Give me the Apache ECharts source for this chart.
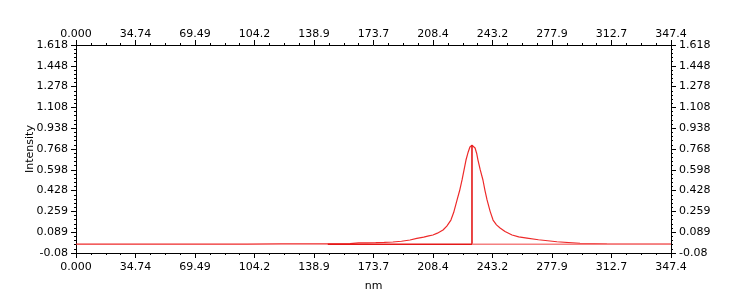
<!DOCTYPE html>
<html>
<head>
<meta charset="utf-8">
<script src="https://cdn.jsdelivr.net/npm/echarts@6/dist/echarts.min.js"></script>
<style>
html,body{margin:0;padding:0;background:#fff;}
#chart{width:747px;height:300px;}
</style>
</head>
<body>
<div id="chart"></div>
<script>
// Tick labels
const xTicks = ["0.000","34.74","69.49","104.2","138.9","173.7","208.4","243.2","277.9","312.7","347.4"];
const yTicks = ["-0.08","0.089","0.259","0.428","0.598","0.768","0.938","1.108","1.278","1.448","1.618"];
const X_MIN = 0, X_MAX = 347.4, X_STEP = 34.74;
const Y_MIN = -0.08, Y_MAX = 1.618, Y_STEP = 0.1698;

// Spectrum (nm, intensity)
const wavelength = [0,20,40,60,80,100,120,140,150,160,165,170,175,180,185,190,195,199,203,206,208.4,211,214.3,216.5,218.9,220.5,222.5,224,225.4,226.6,227.7,229,230,231.2,232.2,233,234,234.7,236,237.6,238.8,240,241.8,243.5,245.5,247.6,250.5,254.6,258.5,263.3,270,280.8,294.3,310,330,347.4];
const intensity  = [-0.008,-0.008,-0.007,-0.007,-0.007,-0.007,-0.006,-0.006,-0.005,-0.003,0.002,0.003,0.004,0.006,0.010,0.016,0.026,0.040,0.050,0.060,0.067,0.082,0.108,0.140,0.189,0.250,0.353,0.430,0.516,0.600,0.679,0.745,0.785,0.800,0.795,0.777,0.730,0.679,0.600,0.516,0.430,0.353,0.260,0.189,0.150,0.124,0.095,0.067,0.052,0.042,0.028,0.012,-0.002,-0.006,-0.008,-0.008];

// Peak marker: baseline segment up to peak, then vertical to peak top
const markerX = [147, 231.2, 231.2];
const markerY = [-0.008, -0.008, 0.800];
// Baseline after the peak
const baseX = [231.2, 347.4];
const baseY = [-0.008, -0.008];

// axis shifted so that min is a multiple of interval
const shift = v => v - Y_MIN;
const pairs = (xs, ys) => xs.map((x, i) => [x, shift(ys[i])]);

const font = {fontFamily: "DejaVu Sans", fontSize: 11, color: "#000"};
const axisLine = {show: true, onZero: false, lineStyle: {color: "#000", width: 1}};

function xAx(pos, margin, extra) {
  return Object.assign({
    type: "value", position: pos, min: X_MIN, max: X_MAX - X_MIN, interval: X_STEP,
    axisLine: axisLine,
    axisTick: {show: true, inside: false, length: 5, lineStyle: {color: "#000"}},
    minorTick: {show: true, splitNumber: 4, length: 2, lineStyle: {color: "#000"}},
    splitLine: {show: false}, minorSplitLine: {show: false},
    axisLabel: Object.assign({margin: margin, showMinLabel: true, showMaxLabel: true,
      formatter: v => xTicks[Math.round(v / X_STEP)] || ""}, font)
  }, extra || {});
}
function yAx(pos, extra) {
  return Object.assign({
    type: "value", position: pos, min: 0, max: Y_MAX - Y_MIN, interval: Y_STEP,
    axisLine: axisLine,
    axisTick: {show: true, inside: false, length: 5, lineStyle: {color: "#000"}},
    minorTick: {show: true, splitNumber: 5, length: 2, lineStyle: {color: "#000"}},
    splitLine: {show: false}, minorSplitLine: {show: false},
    axisLabel: Object.assign({margin: 8, showMinLabel: true, showMaxLabel: true,
      formatter: v => yTicks[Math.round(v / Y_STEP)] || ""}, font)
  }, extra || {});
}

const chart = echarts.init(document.getElementById("chart"), null, {renderer: "canvas"});
chart.setOption({
  animation: false,
  backgroundColor: "#fff",
  grid: {left: 76, right: 76, top: 45, bottom: 47, containLabel: false},
  xAxis: [
    xAx("bottom", 9, {name: "nm", nameLocation: "middle", nameGap: 28, nameMoveOverlap: false,
      nameTextStyle: {fontFamily: "DejaVu Sans", fontSize: 11, color: "#000"}}),
    xAx("top", 5)
  ],
  yAxis: [
    yAx("left", {name: "Intensity", nameLocation: "middle", nameGap: 40, nameRotate: 90,
      nameMoveOverlap: false,
      nameTextStyle: {fontFamily: "DejaVu Sans", fontSize: 11, color: "#000"}}),
    yAx("right")
  ],
  series: [
    {type: "line", xAxisIndex: 0, yAxisIndex: 0, data: pairs(wavelength, intensity),
     showSymbol: false, symbol: "none", silent: true,
     lineStyle: {color: "#ee2a2a", width: 1.2}, z: 2},
    {type: "line", xAxisIndex: 0, yAxisIndex: 0, data: pairs(markerX, markerY),
     showSymbol: false, symbol: "none", silent: true,
     lineStyle: {color: "#e41818", width: 1.6}, z: 3},
    {type: "line", xAxisIndex: 0, yAxisIndex: 0, data: pairs(baseX, baseY),
     showSymbol: false, symbol: "none", silent: true,
     lineStyle: {color: "#f48080", width: 1.6}, z: 4}
  ]
});
</script>
</body>
</html>
